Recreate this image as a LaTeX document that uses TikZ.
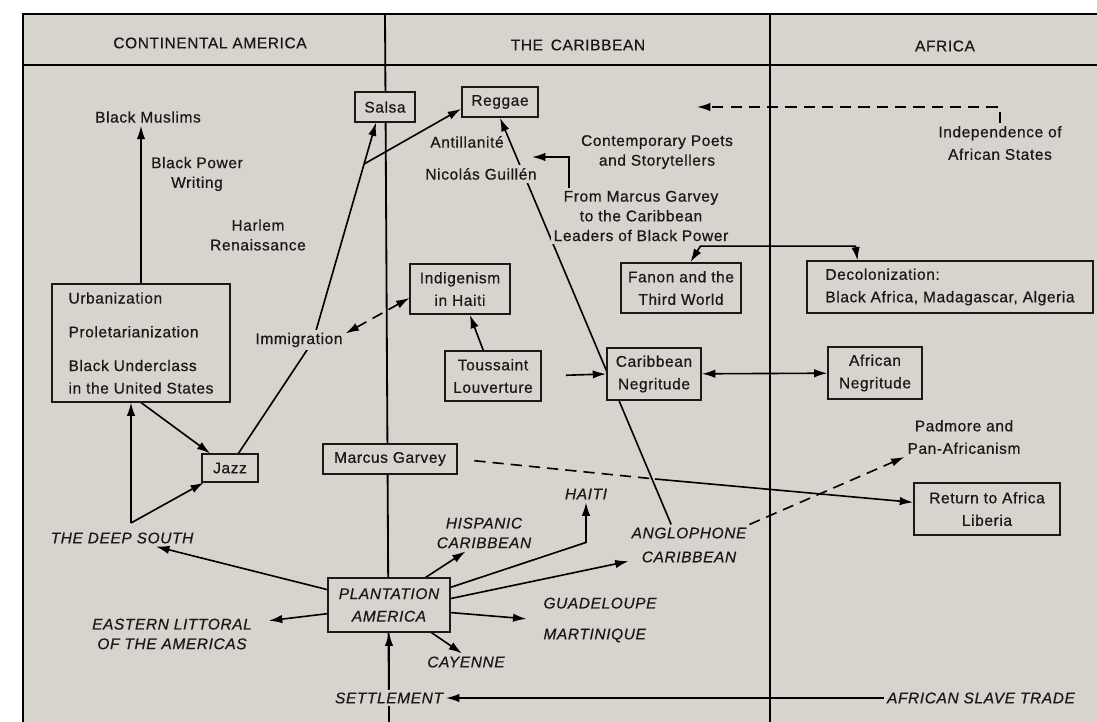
\documentclass[tikz,border=0pt]{standalone}
\usepackage{fontspec}
\setmainfont{Liberation Sans}[LetterSpace=4, FakeBold=0.6]
\usetikzlibrary{arrows.meta}
\definecolor{paper}{RGB}{215,212,206}
\definecolor{ink}{RGB}{25,25,25}
\pgfdeclarelayer{back}
\pgfsetlayers{back,main}

\begin{document}
\begin{tikzpicture}[x=0.025cm, y=-0.025cm, color=ink,
  font=\fontsize{11}{14}\selectfont,
  >={Latex[length=9.5pt, width=6pt]},
  lbl/.style={fill=paper, inner sep=2pt, align=center},
  itlbl/.style={lbl, font=\fontsize{11}{14}\selectfont\itshape},
  bx/.style={draw, line width=1.3pt, fill=paper, align=center, inner sep=3pt,
    font=\fontsize{11}{16}\selectfont},
  link/.style={line width=1.15pt},
  dashline/.style={link, dash pattern=on 8pt off 5pt},
  frame/.style={line width=1.3pt}]
  \useasboundingbox (0,0) rectangle (1097,722);
  % column heads (1 unit = one pixel of the sheet, y downwards)
  \node (hcont) at (210,43) {CONTINENTAL AMERICA};
  \node (hcarib) at (578,45) {THE\hspace{0.5em}CARIBBEAN};
  \node (hafr) at (945,46) {AFRICA};
  % continental america
  \node[lbl] (muslims) at (148,117) {Black Muslims};
  \node[lbl] (bpower) at (197,174) {Black Power\\Writing};
  \node[lbl] (harlem) at (258,235) {Harlem\\Renaissance};
  \node[bx, align=left, minimum width=4.43cm, minimum height=2.93cm] (urb) at (141,343)
    {Urbanization\\[8pt]Proletarianization\\[8pt]Black Underclass\\in the United States};
  \node[bx, minimum width=1.4cm, minimum height=0.68cm] (jazz) at (230,468) {Jazz};
  \node[lbl] (immig) at (299,340) {Immigration};
  \node[itlbl] (deepsouth) at (122,538) {THE DEEP SOUTH};
  \node[itlbl] (eastlit) at (172,634) {EASTERN LITTORAL\\OF THE AMERICAS};
  % the caribbean
  \node[bx, minimum width=1.5cm, minimum height=0.73cm] (salsa) at (385,107) {Salsa};
  \node[bx, minimum width=1.9cm, minimum height=0.75cm] (reggae) at (500,102) {Reggae};
  \node[lbl] (antill) at (467,142) {Antillanité};
  \node[lbl] (guillen) at (481,174) {Nicolás Guillén};
  \node[lbl] (poets) at (657,152) {Contemporary Poets\\and Storytellers};
  \node[lbl] (fromgarvey) at (641,216) {From Marcus Garvey\\to the Caribbean\\Leaders of Black Power};
  \node[bx, minimum width=2.48cm, minimum height=1.25cm] (indig) at (460,289) {Indigenism\\in Haiti};
  \node[bx, minimum width=2.4cm, minimum height=1.23cm] (touss) at (493,376) {Toussaint\\Louverture};
  \node[bx, minimum width=2.35cm, minimum height=1.28cm] (carneg) at (654,374) {Caribbean\\Negritude};
  \node[bx, minimum width=3cm, minimum height=1.25cm] (fanon) at (681,288) {Fanon and the\\Third World};
  \node[bx, minimum width=3.33cm, minimum height=0.75cm] (garvey) at (390,459) {Marcus Garvey};
  \node[bx, minimum width=3.05cm, minimum height=1.33cm,
    font=\fontsize{11}{16}\selectfont\itshape] (plant) at (389,605) {PLANTATION\\AMERICA};
  \node[itlbl] (hisp) at (484,533) {HISPANIC\\CARIBBEAN};
  \node[itlbl] (haiti) at (586,494) {HAITI};
  \node[itlbl] (anglo) at (689,545) {ANGLOPHONE\\[3pt]CARIBBEAN};
  \node[itlbl, align=left] (guadmart) at (600,620) {GUADELOUPE\\[8pt]MARTINIQUE};
  \node[itlbl] (cayenne) at (466,662) {CAYENNE};
  \node[itlbl] (settle) at (389,698) {SETTLEMENT};
  % africa
  \node[lbl] (indep) at (1000,143) {Independence of\\[2pt]African States};
  \node[bx, align=left, minimum width=7.13cm, minimum height=1.28cm] (decol) at (950,287)
    {Decolonization:\\Black Africa, Madagascar, Algeria};
  \node[bx, minimum width=2.33cm, minimum height=1.28cm] (afneg) at (875,373) {African\\Negritude};
  \node[lbl] (padmore) at (964,437) {Padmore and\\[2pt]Pan-Africanism};
  \node[bx, minimum width=3.65cm, minimum height=1.3cm] (retafr) at (987,509) {Return to Africa\\Liberia};
  \node[itlbl] (slave) at (981,698) {AFRICAN SLAVE TRADE};
  % loose ends and bends
  \coordinate (dsfork) at (131,523);
  \coordinate (immigbend) at (313,341);
  \coordinate (guilltip) at (532,157);
  \coordinate (indtip) at (697,107);
  \coordinate (garveycross) at (655,479);
  \begin{pgfonlayer}{back}
    % sheet and rulings; the left ruling also carries settlement -> plantation
    \fill[paper] (23,14) rectangle (1097,722);
    \draw[frame] (23,722) -- (23,14) -- (1097,14);
    \draw[frame] (23,65) -- (1097,65);
    \draw[frame] (385,14) -- (389,722);
    \draw[frame] (770,14) -- (770,722);
    % continental america
    \draw[link, ->] (urb.north) -- (muslims.south -| urb.north);
    \draw[link, ->] (urb.south) -- (jazz);
    \draw[link, ->] (dsfork) -- (urb.south -| dsfork);
    \draw[link, ->] (dsfork) -- (jazz);
    \draw[link] (jazz.60) -- (immigbend);
    \draw[link, ->] (immigbend) -- coordinate[pos=0.81] (reggaefork) (salsa.-120);
    \draw[link, ->] (reggaefork) -- (reggae.190);
    \draw[dashline, <->] (immig.8) -- (indig.190);
    % the caribbean
    \draw[link, ->] (anglo.131) -- (reggae.south);
    \draw[link, ->] ([xshift=-1.8cm]fromgarvey.north) |- (guilltip);
    \draw[link, <->] (fanon.70) -- ++(10,-16) -- ++(155,0) -- (decol.164);
    \draw[link, ->] (touss) -- (indig);
    \draw[link, ->, shorten <=17pt] (touss.east) -- (carneg.west);
    \draw[link, <->] (carneg) -- (afneg);
    \draw[dashline, shorten <=12pt] (garvey.east) -- (garveycross);
    \draw[link, ->] (garveycross) -- (retafr);
    \draw[dashline, ->] (anglo.north east) -- (padmore.south west);
    \draw[dashline, ->] (indep.north) |- (indtip);
    % out of plantation america
    \draw[link, ->] (plant.166) -- (deepsouth);
    \draw[link, ->, shorten >=10pt] (plant.188) -- (eastlit.8);
    \draw[link, ->] (plant.37) -- (hisp.-135);
    \draw[link, ->] (plant.16) -- ([yshift=-1cm]haiti.south) -- (haiti.south);
    \draw[link, ->] (plant.6) -- (anglo.195);
    \draw[link, ->, shorten >=10pt] (plant.-7) -- (guadmart.west);
    \draw[link, ->] (plant.-33) -- (cayenne.115);
    \draw[link, ->] (settle) -- (plant);
    \draw[link, ->] (slave) -- (settle);
  \end{pgfonlayer}
\end{tikzpicture}
\end{document}
